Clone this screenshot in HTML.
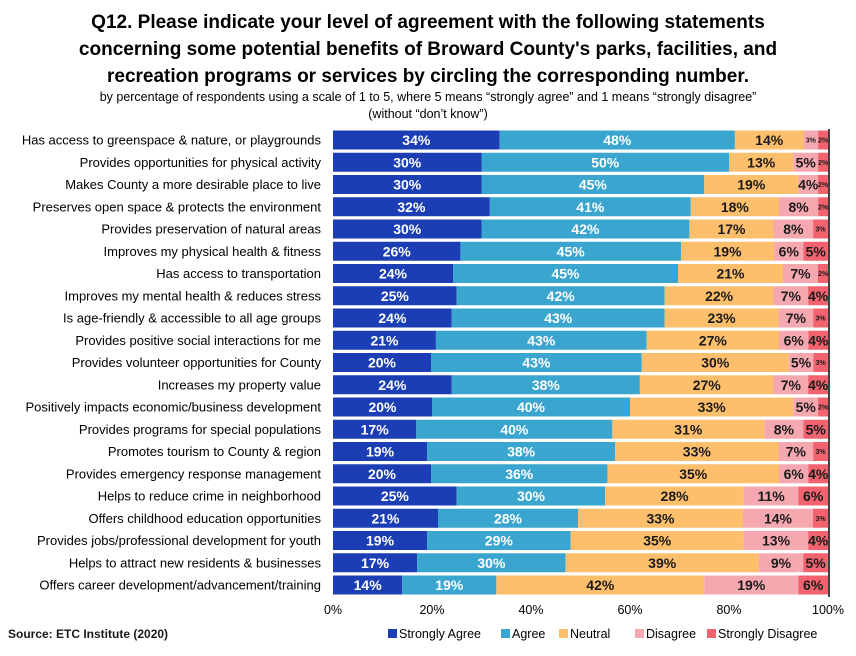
<!DOCTYPE html>
<html><head><meta charset="utf-8"><style>
body{margin:0;background:#fff;font-family:"Liberation Sans",Arial,sans-serif}
svg text{font-family:"Liberation Sans",Arial,sans-serif}
</style></head><body>
<svg id="c" width="856" height="651" xmlns="http://www.w3.org/2000/svg">
<text x="428" y="28" text-anchor="middle" font-size="19" font-weight="bold" fill="#000">Q12. Please indicate your level of agreement with the following statements</text>
<text x="428" y="55" text-anchor="middle" font-size="19" font-weight="bold" fill="#000">concerning some potential benefits of Broward County's parks, facilities, and</text>
<text x="428" y="82" text-anchor="middle" font-size="19" font-weight="bold" fill="#000">recreation programs or services by circling the corresponding number.</text>
<text x="428" y="101" text-anchor="middle" font-size="12.5" fill="#000">by percentage of respondents using a scale of 1 to 5, where 5 means “strongly agree” and 1 means “strongly disagree”</text>
<text x="428" y="118" text-anchor="middle" font-size="12.5" fill="#000">(without “don’t know”)</text>
<g id="bars"></g>
<line x1="829" y1="129" x2="829" y2="597" stroke="#000" stroke-width="1.5"/>
<g id="axis"></g>
<text x="8" y="638" font-size="12" font-weight="bold" fill="#1a1a1a">Source:  ETC Institute (2020)</text>
<g id="legend"></g>
</svg>
<script>
const categories=["Has access to greenspace & nature, or playgrounds","Provides opportunities for physical activity","Makes County a more desirable place to live","Preserves open space & protects the environment","Provides preservation of natural areas","Improves my physical health & fitness","Has access to transportation","Improves my mental health & reduces stress","Is age-friendly & accessible to all age groups","Provides positive social interactions for me","Provides volunteer opportunities for County","Increases my property value","Positively impacts economic/business development","Provides programs for special populations","Promotes tourism to County & region","Provides emergency response management","Helps to reduce crime in neighborhood","Offers childhood education opportunities","Provides jobs/professional development for youth","Helps to attract new residents & businesses","Offers career development/advancement/training"];
const stronglyAgree=[34,30,30,32,30,26,24,25,24,21,20,24,20,17,19,20,25,21,19,17,14];
const agree=[48,50,45,41,42,45,45,42,43,43,43,38,40,40,38,36,30,28,29,30,19];
const neutral=[14,13,19,18,17,19,21,22,23,27,30,27,33,31,33,35,28,33,35,39,42];
const disagree=[3,5,4,8,8,6,7,7,7,6,5,7,5,8,7,6,11,14,13,9,19];
const stronglyDisagree=[2,2,2,2,3,5,2,4,3,4,3,4,2,5,3,4,6,3,4,5,6];
const seriesNames=["Strongly Agree","Agree","Neutral","Disagree","Strongly Disagree"];
const colors=["#1c3eb4","#3aa6d0","#fdbf6b","#f6a8b0","#f2636f"];
const textColors=["#fff","#fff","#1a1a1a","#1a1a1a","#1a1a1a"];
const ticks=[0,20,40,60,80,100];
const X0=333,X1=828,Y0=140,PITCH=22.25,BH=19;
const xs=v=>X0+(X1-X0)*v/100;
const ys=i=>Y0+i*PITCH;
const NS="http://www.w3.org/2000/svg";
function mk(t,a,p){const e=document.createElementNS(NS,t);for(const k in a)e.setAttribute(k,a[k]);p.appendChild(e);return e;}
const series=[stronglyAgree,agree,neutral,disagree,stronglyDisagree];
const gb=document.getElementById('bars');
categories.forEach((c,i)=>{
  const lab=mk('text',{x:321,y:ys(i)+4.5,'text-anchor':'end','font-size':'13',fill:'#000'},gb);
  lab.textContent=c;
  
  
  const tot=series.reduce((s,a)=>s+a[i],0);
  let acc=0;
  series.forEach((arr,k)=>{
    const v=arr[i]*100/tot;
    const x=xs(acc),w=xs(acc+v)-x;
    const r=mk('rect',{x:x,y:ys(i)-BH/2,width:w,height:BH,fill:colors[k]},gb);
    
    
    const small=arr[i]<4;
    const t=mk('text',{x:x+w/2,y:ys(i)+(small?2.5:5),'text-anchor':'middle','font-size':small?'7':'14','font-weight':'bold',fill:textColors[k]},gb);
    t.textContent=arr[i]+'%';
    
    
    acc+=v;
  });
});
const ga=document.getElementById('axis');
ticks.forEach(t=>{
  const e=mk('text',{x:xs(t),y:614,'text-anchor':'middle','font-size':'12.5',fill:'#000'},ga);
  e.textContent=t+'%';
  
  
});
const gl=document.getElementById('legend');
const lx=[388,501,559,635,707];
seriesNames.forEach((n,k)=>{
  const r=mk('rect',{x:lx[k],y:629,width:9,height:9,fill:colors[k]},gl);
  
  
  const t=mk('text',{x:lx[k]+11,y:638,'font-size':'12.5',fill:'#000'},gl);
  t.textContent=n;
  
  
});
</script>
</body></html>
